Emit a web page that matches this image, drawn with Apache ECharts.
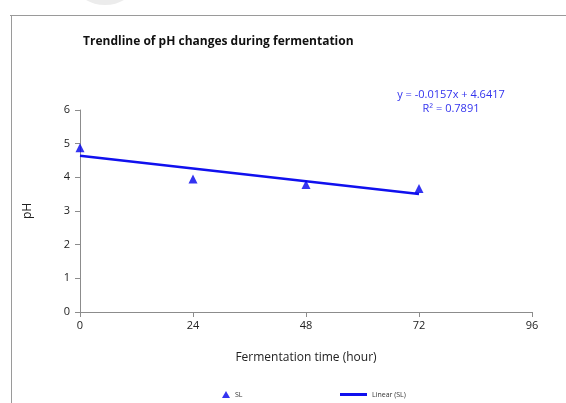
<!DOCTYPE html>
<html>
<head>
<meta charset="utf-8">
<script src="https://cdn.jsdelivr.net/npm/echarts@6/dist/echarts.min.js"></script>
<style>
  html, body { margin: 0; padding: 0; background: #fff; }
  #chart { width: 566px; height: 403px; }
</style>
</head>
<body>
<div id="chart"></div>
<script>
// fermentation time (hour) and measured pH
const hours = [0, 24, 48, 72];
const phValues = [4.88, 3.95, 3.79, 3.67];
const xTicks = [0, 24, 48, 72, 96];
const equationText = ['y = -0.0157x + 4.6417', 'R\u00b2 = 0.7891'];

// least squares fit for the trendline
const n = hours.length;
const mx = hours.reduce((a, b) => a + b, 0) / n;
const my = phValues.reduce((a, b) => a + b, 0) / n;
let sxy = 0, sxx = 0;
hours.forEach((x, i) => { sxy += (x - mx) * (phValues[i] - my); sxx += (x - mx) * (x - mx); });
const slope = sxy / sxx;
const intercept = my - slope * mx;
const x0 = hours[0], x1 = hours[n - 1];
const trend = [[x0, intercept + slope * x0], [x1, intercept + slope * x1]];

const chart = echarts.init(document.getElementById('chart'));
const font = '"Open Sans", "Noto Sans", sans-serif';
const legendText = { fontSize: 7, color: '#333', fontFamily: font };

chart.setOption({
  animation: false,
  textStyle: { fontFamily: font },
  title: {
    text: 'Trendline of pH changes during fermentation',
    left: 78, top: 31,
    textStyle: { fontSize: 12, fontWeight: 'bold', color: '#111', fontFamily: font }
  },
  grid: { left: 80, right: 34, top: 110, bottom: 91 },
  legend: [
    {
      bottom: 0, left: 217,
      itemWidth: 8, itemHeight: 7, itemGap: 10,
      textStyle: legendText,
      data: [{ name: 'SL', icon: 'triangle', itemStyle: { color: '#0000ee' } }]
    },
    {
      bottom: 0, left: 335,
      itemWidth: 27, itemHeight: 3,
      textStyle: legendText,
      data: [{ name: 'Linear (SL)', icon: 'rect', itemStyle: { color: '#1010ee' } }]
    }
  ],
  xAxis: {
    type: 'value', min: 0, max: 96, interval: 24,
    name: 'Fermentation time (hour)', nameLocation: 'middle', nameGap: 40,
    nameTextStyle: { fontSize: 12, color: '#222', fontFamily: font },
    axisLine: { lineStyle: { color: '#8c8c8c', width: 1 } },
    axisTick: { show: true, length: 5, lineStyle: { color: '#8c8c8c' } },
    axisLabel: {
      fontSize: 11, color: '#222', margin: 8,
      formatter: v => xTicks.includes(v) ? String(v) : ''
    },
    splitLine: { show: false }
  },
  yAxis: {
    type: 'value', min: 0, max: 6, interval: 1,
    name: 'pH', nameLocation: 'middle', nameGap: 46, nameRotate: 90,
    nameTextStyle: { fontSize: 12, color: '#222', fontFamily: font },
    axisLine: { show: true, lineStyle: { color: '#8c8c8c', width: 1 } },
    axisTick: { show: true, length: 5, lineStyle: { color: '#8c8c8c' } },
    axisLabel: { fontSize: 11, color: '#222', margin: 10 },
    splitLine: { show: false }
  },
  series: [
    {
      name: 'Linear (SL)',
      type: 'line',
      data: trend,
      symbol: 'none',
      lineStyle: { color: '#1010ee', width: 2.5 },
      itemStyle: { color: '#1010ee' },
      z: 2
    },
    {
      name: 'SL',
      type: 'scatter',
      data: hours.map((h, i) => [h, phValues[i]]),
      symbol: 'triangle',
      symbolSize: 9,
      itemStyle: { color: '#0000ee' },
      z: 3
    }
  ],
  graphic: [
    { type: 'ellipse', shape: { cx: 105, cy: -14, rx: 28, ry: 19 }, style: { fill: '#ececec' }, z: -1 },
    { type: 'line', shape: { x1: 10, y1: 15.5, x2: 566, y2: 15.5 }, style: { stroke: '#9a9a9a', lineWidth: 1 } },
    { type: 'line', shape: { x1: 11.5, y1: 15, x2: 11.5, y2: 403 }, style: { stroke: '#9a9a9a', lineWidth: 1 } },
    {
      type: 'text', x: 451, y: 88,
      style: {
        text: equationText.join('\n'), align: 'center', verticalAlign: 'top',
        fill: '#3333ee', font: '11px ' + font, lineHeight: 14
      }
    }
  ]
});
</script>
</body>
</html>
